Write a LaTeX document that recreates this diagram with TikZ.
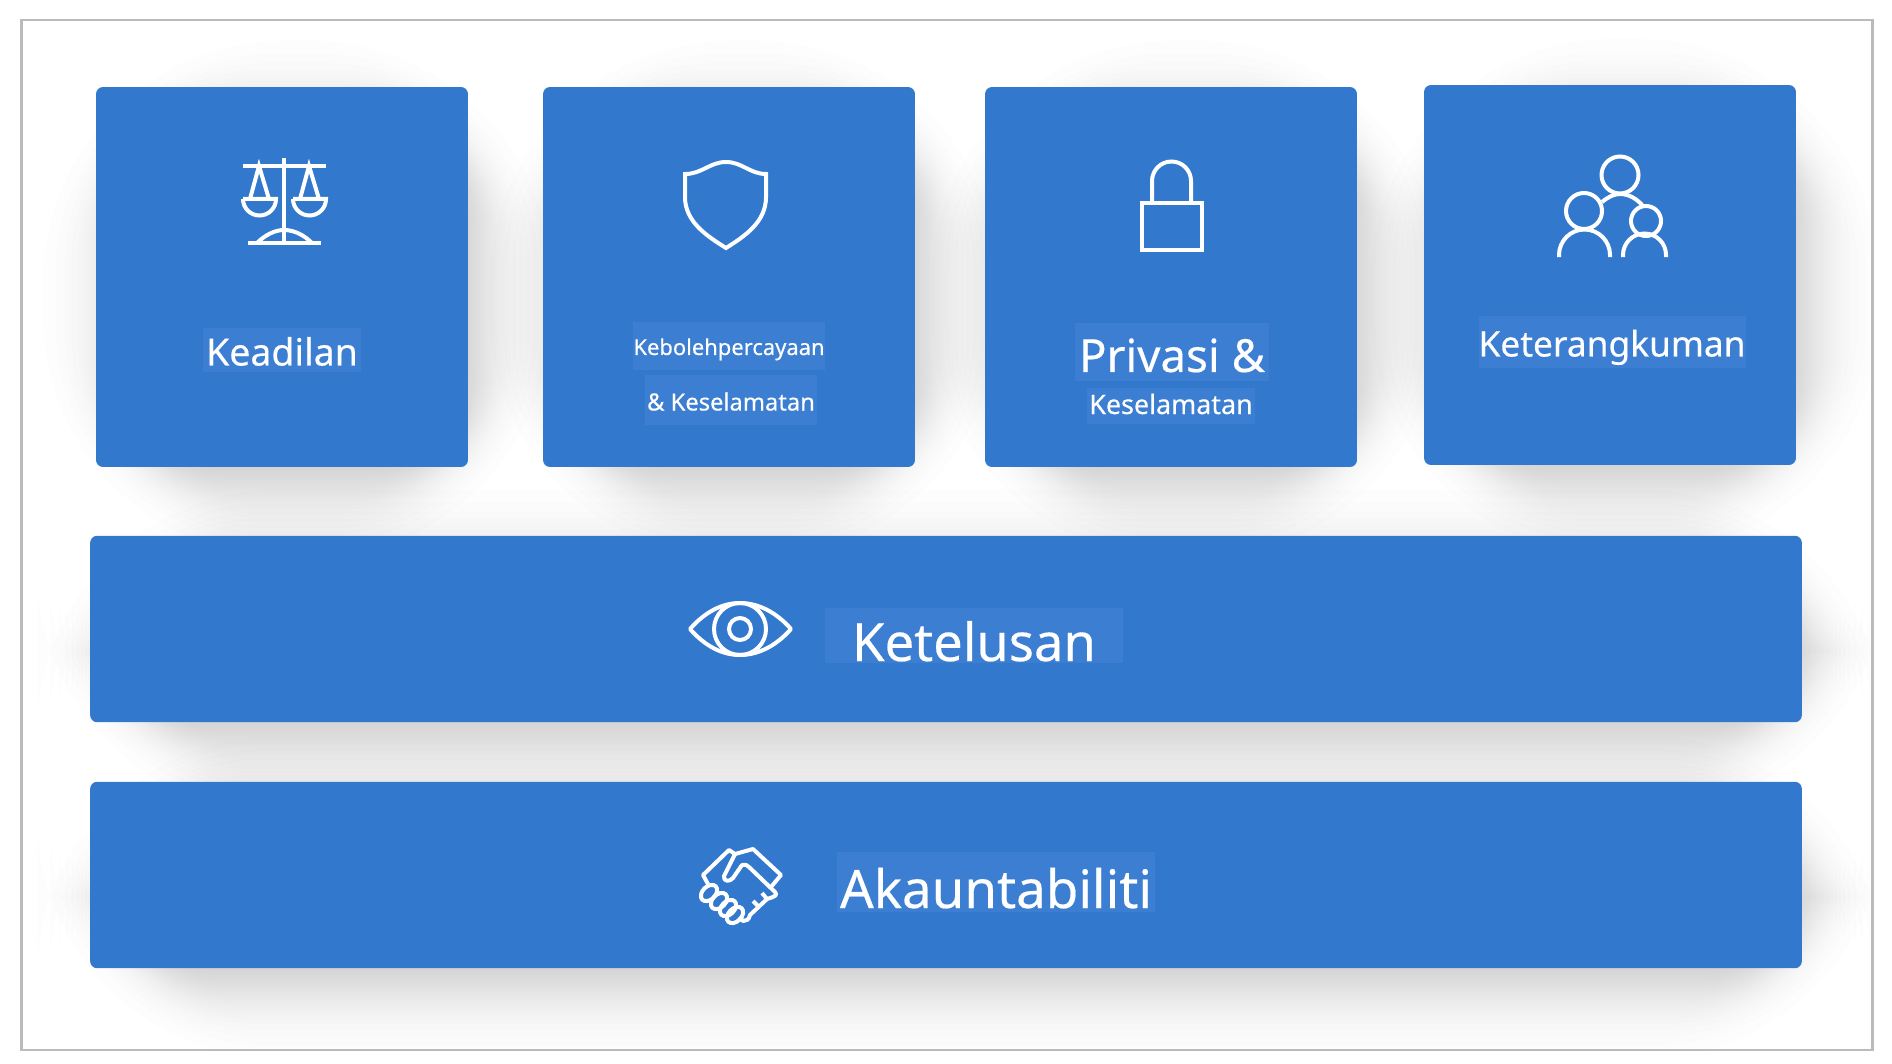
\documentclass[tikz,border=0pt]{standalone}
\usepackage{fontspec}
\setmainfont[RawFeature={embolden=0.35}]{Noto Sans}
\usepackage{tikz}
\usetikzlibrary{calc,backgrounds}
\definecolor{cardcolor}{RGB}{50, 120, 205}
\definecolor{patchcolor}{RGB}{60, 126, 209}
\definecolor{framecolor}{RGB}{187, 187, 187}

\begin{document}
\begin{tikzpicture}[
    x=0.02cm, y=-0.02cm,
    card/.style={rectangle, fill=cardcolor, rounded corners=0.14cm, minimum width=7.44cm, minimum height=7.6cm},
    band/.style={rectangle, fill=cardcolor, rounded corners=0.14cm, minimum width=34.24cm, minimum height=3.73cm},
    patch/.style={rectangle, fill=patchcolor, text=white, inner sep=0pt, text depth=0pt},
    icon/.style={draw=white, line width=0.08cm},
    sheet/.style={rectangle, draw=framecolor, line width=0.054cm, minimum width=37.02cm, minimum height=20.6cm},
]
    \useasboundingbox (0,0) rectangle (1892,1064);

    % Outer frame
    \node[sheet] (sheet) at (947,535) {};

    % Top row
    \node[card] (fair) at (282,277) {};
    \node[card] (trust) at (729,277) {};
    \node[card] (privacy) at (1171,277) {};
    \node[card] (inclusion) at (1610,275) {};

    % Wide rows
    \node[band] (transparency) at (946,629) {};
    \node[band] (account) at (946,875) {};

    % Soft shadows
    \begin{scope}[on background layer]
        \clip (sheet.south west) rectangle (sheet.north east);
        \foreach \b in {fair,trust,privacy,inclusion,transparency,account}
            \foreach \r [evaluate=\r as \rad using (\r*0.5+4)*0.569] in {2,15,24,31,37,42,46,50,54,57,60,63,66,69,71,74,77,80,83,86,90,94,98,103,109,116,125,138}
                \fill[black, opacity=0.008, rounded corners=\rad pt]
                    ($(\b.north west)+(85-\r,92-\r)$) rectangle ($(\b.south east)+(\r-55,\r-48)$);
    \end{scope}

    % Labels
    \node[patch, minimum width=3.18cm, minimum height=0.9cm, text height=0.62cm, font=\fontsize{21.3}{25}\selectfont] (fair_txt) at (282,350) {Keadilan};
    \node[patch, minimum width=3.86cm, minimum height=0.98cm, text height=0.36cm, font=\fontsize{12.5}{15}\selectfont] (trust_txt) at (729,346) {Kebolehpercayaan};
    \node[patch, minimum width=3.44cm, minimum height=1.02cm, text height=0.42cm, font=\fontsize{13.5}{16}\selectfont] (safe_txt) at (731,400) {\&~Keselamatan};
    \node[patch, minimum width=3.88cm, minimum height=1.16cm, text height=0.8cm, font=\fontsize{26}{31}\selectfont] (privacy_txt) at (1172,352) {Privasi \&};
    \node[patch, minimum width=3.36cm, minimum height=0.74cm, text height=0.32cm, font=\fontsize{15.3}{18}\selectfont] (secure_txt) at (1171,406) {Keselamatan};
    \node[patch, minimum width=5.34cm, minimum height=1.06cm, text height=0.58cm, font=\fontsize{20.1}{24}\selectfont] (inclusion_txt) at (1612,342) {Keterangkuman};
    \node[patch, minimum width=5.96cm, minimum height=1.1cm, text height=1.04cm, font=\fontsize{29.9}{36}\selectfont] (transparency_txt) at (974,635) {Ketelusan};
    \node[patch, minimum width=6.36cm, minimum height=1.2cm, text height=1.04cm, font=\fontsize{30.1}{36}\selectfont] (account_txt) at (996,882) {Akauntabiliti};

    % Scales
    \draw[icon] (243,166) -- (326,166);
    \draw[icon] (284,158) -- (284,243);
    \draw[icon] (248,243) -- (321,243);
    \draw[icon] (257,243) .. controls (265,235) and (275,230) .. (284,230) .. controls (294,230) and (304,235) .. (312,243);
    \draw[icon] (243,199) -- (276,199) arc[start angle=0, end angle=180, radius=16.5];
    \draw[icon] (293,199) -- (326,199) arc[start angle=0, end angle=180, radius=16.5];
    \draw[icon] (250,199) -- (259,166) -- (269,199);
    \draw[icon] (300,199) -- (309,166) -- (319,199);

    % Shield
    \draw[icon, line join=miter] (685,174) .. controls (702,174) and (710,162) .. (726,162) .. controls (742,162) and (750,174) .. (766,174)
        -- (766,197) .. controls (766,222) and (745,236) .. (726,248) .. controls (707,236) and (685,222) .. (685,197) -- cycle;

    % Padlock
    \draw[icon] (1142,203) rectangle (1202,250);
    \draw[icon] (1152,203) -- (1152,181) arc[start angle=180, end angle=360, radius=19.5] -- (1191,203);

    % People
    \draw[icon] (1620,175) circle[radius=18.5];
    \draw[icon] (1584,211) circle[radius=18];
    \draw[icon] (1646,221) circle[radius=15];
    \draw[icon] (1559,257) -- (1559,255) arc[start angle=180, end angle=360, radius=25.5] -- (1610,257);
    \draw[icon] (1623,257) -- (1623,255) arc[start angle=180, end angle=360, radius=21.5] -- (1666,257);
    \draw[icon] (1602,202) .. controls (1608,197) and (1614,194) .. (1620,194) .. controls (1629,194) and (1637,199) .. (1643,206);

    % Eye
    \draw[icon, line join=round] (690,629) .. controls (705,612) and (722,603) .. (740,603) .. controls (758,603) and (776,612) .. (791,629)
        .. controls (776,646) and (758,655) .. (740,655) .. controls (722,655) and (705,646) .. (690,629) -- cycle;
    \draw[icon] (740,629) circle[radius=26];
    \draw[icon] (740,629) circle[radius=11];

    % Handshake
    \draw[icon, line join=round] (708,884) -- (703,875) -- (729,850) -- (735,854) -- (753,849) -- (781,875) -- (771,887);
    \draw[icon, line join=round] (735,854) -- (724,876) .. controls (723,882) and (730,882) .. (733,878)
        -- (742,865) .. controls (745,864) and (747,865) .. (749,867) -- (775,892) .. controls (777,895) and (777,896) .. (767,899)
        -- (750,915) .. controls (749,920) and (746,921) .. (743,921) -- (739,917);
    \draw[icon, line join=round] (762,893) -- (767,899);
    \draw[icon, line join=round] (753,901) -- (759,907);
    \foreach \fx/\fy in {709/893,719/901,728/908,735/915}
        \draw[icon] (\fx,\fy) circle[x radius=9.5, y radius=6.5, rotate=45];
\end{tikzpicture}
\end{document}
